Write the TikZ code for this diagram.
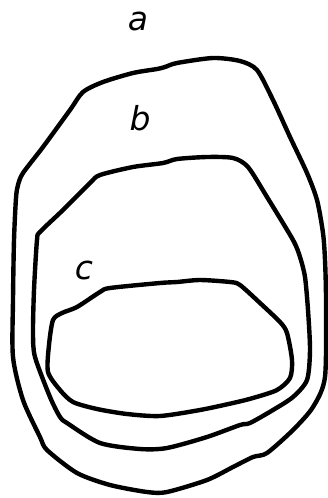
\documentclass[tikz,border=0pt]{standalone}
\usepackage{fontspec}
\setmainfont{DejaVu Sans}
\begin{document}
\begin{tikzpicture}[x=1pt,y=-1pt,
  outline/.style={line width=4.4pt,line join=round,line cap=round},
  lbl/.style={font=\fontsize{33}{33}\selectfont\itshape,inner sep=0pt}]
\useasboundingbox (0,0) rectangle (327,498);
% outer curve a
\draw[outline] plot[smooth cycle,tension=0.45] coordinates {
 (16,198) (18,185) (23,173) (43,147) (70,110) (83,92) (103,82) (133,73)
 (157,69) (165,67) (177,63) (213,58) (240,61) (257,70) (273,100) (290,137)
 (307,173) (317,200) (323,233) (325,260) (326,300) (325,377) (313,407)
 (293,430) (267,453) (253,457) (233,467) (207,480) (167,492) (147,492)
 (110,485) (77,473) (47,450) (40,437) (23,400) (13,357) (13,300) (14,240)};
% middle curve b
\draw[outline] plot[smooth cycle,tension=0.45] coordinates {
 (37,240) (40,232) (63,210) (90,183) (100,175) (133,167) (163,163) (177,159)
 (207,157) (233,158) (248,167) (267,197) (293,240) (300,257) (305,277)
 (308,310) (310,350) (307,380) (293,397) (273,410) (250,423) (240,425)
 (207,437) (167,448) (140,449) (100,443) (67,423) (60,417) (50,397)
 (35,357) (33,333) (34,290)};
% inner curve c
\draw[outline] plot[smooth cycle,tension=0.45] coordinates {
 (53,320) (62,313) (77,307) (100,292) (110,288) (160,283) (177,282) (200,280)
 (230,282) (240,285) (260,303) (280,322) (287,333) (292,360) (290,378)
 (277,390) (253,398) (233,403) (200,410) (160,416) (127,414) (97,409)
 (73,402) (60,390) (48,372) (49,345)};
\node[lbl] (la) at (138,21) {a};
\node[lbl] (lb) at (140,118) {b};
\node[lbl] (lc) at (84,270) {c};
\end{tikzpicture}
\end{document}
